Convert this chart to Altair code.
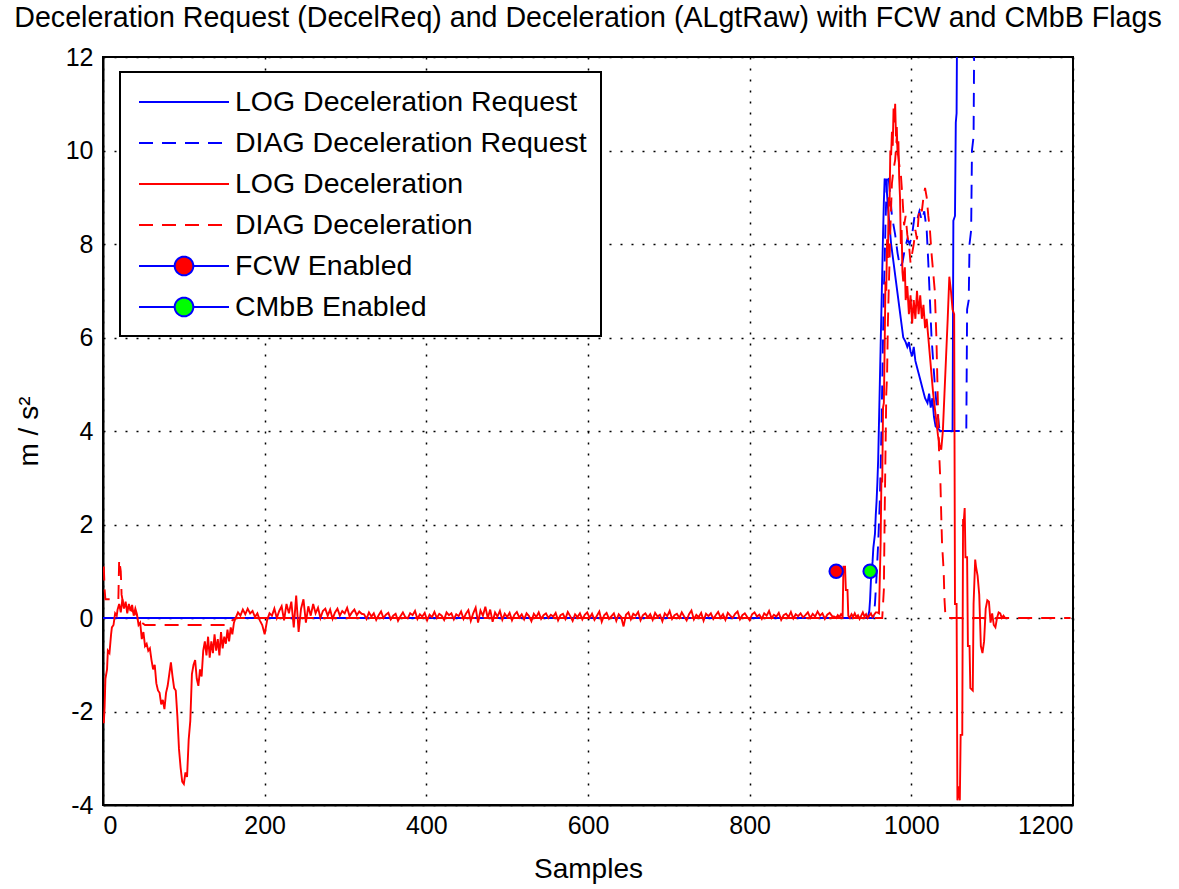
import altair as alt
import pandas as pd

TITLE = "Deceleration Request (DecelReq) and Deceleration (ALgtRaw) with FCW and CMbB Flags"
X_TICKS = [0, 200, 400, 600, 800, 1000, 1200]
Y_TICKS = [-4, -2, 0, 2, 4, 6, 8, 10, 12]

SERIES = ["LOG Deceleration Request", "DIAG Deceleration Request", "LOG Deceleration",
          "DIAG Deceleration", "FCW Enabled", "CMbB Enabled"]

# ---- LOG Deceleration Request (blue solid)
log_req_x = [0, 946, 948, 949, 950, 951, 952, 953, 955, 956, 957, 958, 959, 960, 961, 962, 963, 964,
             965, 966, 967, 969, 971, 973, 975, 978, 981, 984, 987, 990, 993, 995, 997, 999, 1001,
             1003, 1005, 1008, 1011, 1014, 1017, 1020, 1022, 1024, 1026, 1028, 1030, 1036, 1051, 1052,
             1054, 1055, 1056, 1057, 1200]
log_req_y = [0, 0, 0.15, 0.4, 0.8, 1.0, 1.2, 1.5, 1.8, 2.2, 2.5, 2.9, 3.4, 4.2, 5.0, 5.8, 6.6, 7.4,
             8.2, 8.9, 9.4, 9.3, 8.8, 8.4, 8.0, 7.6, 7.2, 6.8, 6.4, 6.0, 5.9, 5.8, 5.9, 5.7, 5.6,
             5.8, 5.5, 5.3, 5.1, 4.9, 4.7, 4.6, 4.8, 4.5, 4.7, 4.3, 4.1, 4.0, 4.0, 8.5,
             8.6, 10.6, 10.8, 14.0, 14.0]

# ---- DIAG Deceleration Request (blue dashed)
diag_req_x = [0, 953, 955, 957, 959, 961, 962, 963, 964, 965, 966, 967, 968, 969, 970, 972, 974, 976,
              978, 980, 983, 986, 989, 992, 995, 998, 1001, 1004, 1007, 1010, 1013, 1016, 1019, 1021,
              1023, 1025, 1027, 1029, 1031, 1033, 1035, 1068, 1069, 1071, 1072, 1074, 1075, 1077,
              1078, 1079, 1200]
diag_req_y = [0, 0, 0.3, 0.9, 1.6, 2.5, 3.2, 4.0, 5.0, 6.0, 7.0, 7.6, 8.4, 9.0, 9.5, 9.4, 9.0, 8.6,
              8.4, 8.2, 7.8, 7.5, 7.6, 7.9, 8.1, 8.0, 8.2, 8.6, 8.5, 8.7, 8.5, 8.7, 8.3, 7.6,
              6.8, 6.0, 5.5, 5.0, 4.6, 4.3, 4.0, 4.0, 6.6, 6.8, 8.0, 8.3, 10.0, 10.3,
              13.0, 14.0, 14.0]

# ---- LOG Deceleration (red solid): start, noisy middle, event
log_dec_start_x = [1, 2, 3, 5, 6, 8, 10, 11, 13, 15, 17, 18, 20, 22, 24, 26, 28, 30, 32, 34, 36, 38,
                   40, 42, 44, 46, 48, 50, 52, 54, 56, 58, 60, 62, 64, 66, 68, 70, 72, 74, 76, 78,
                   80, 82, 84, 86, 88, 90, 92, 94, 96, 98, 100, 102, 104, 106, 108, 110, 112, 114,
                   116, 118, 120, 122, 124, 126, 128, 130, 132, 134, 136, 138, 140, 142, 144, 146,
                   148, 150, 152, 154, 156, 158, 160, 162]
log_dec_start_y = [-2.25, -1.9, -1.3, -1.1, -0.7, -0.75, -0.35, -0.2, -0.15, 0.1, 0.05, 0.18, 0.3,
                   0.12, 0.4, 0.2, 0.35, 0.1, 0.3, 0.15, 0.28, 0.05, 0.2, 0.08, -0.15, -0.1, -0.45,
                   -0.3, -0.6, -0.55, -0.7, -0.65, -0.9, -1.1, -1.0, -1.4, -1.55, -1.6, -1.85, -1.75,
                   -1.95, -1.6, -1.45, -1.2, -0.95, -1.25, -1.5, -1.55, -2.1, -2.8, -3.2, -3.5, -3.55,
                   -3.3, -3.4, -2.6, -2.2, -1.2, -1.0, -0.9, -1.3, -1.45, -1.1, -1.25, -0.7, -0.5,
                   -0.8, -0.4, -0.85, -0.5, -0.75, -0.35, -0.7, -0.45, -0.8, -0.3, -0.65, -0.4, -0.55,
                   -0.25, -0.5, -0.2, -0.35, -0.1]
# samples 164, 167, ..., 905
log_dec_mid_y = [
    0.0, 0.12, 0.05, 0.18, 0.08, 0.2, 0.1, 0.15, 0.02, 0.1, -0.05, -0.15, -0.35,
    -0.05, 0.1, 0.05, 0.2, 0.0, 0.15, 0.25, -0.05, 0.3, 0.1, 0.35, -0.2, 0.48, -0.3, 0.2, 0.4,
    -0.1, 0.25, 0.05, 0.3,
    0.1, 0.22, 0.0, 0.15, 0.2, 0.05, 0.18, -0.02, 0.12, 0.2, 0.05, 0.15, 0.1, 0.22, 0.04, 0.12,
    0.18, 0.06, 0.14, 0.09,
    0.08, -0.02, 0.12, 0.03, 0.1, -0.04, 0.06, 0.14, 0.0, 0.07, 0.11, -0.03, 0.05,
    0.09, -0.06, 0.04, 0.12, 0.02, -0.01, 0.1, 0.06, 0.15, -0.02, 0.08, 0.03, 0.11,
    -0.05, 0.07, 0.02, 0.13, 0.0, 0.09, 0.05, -0.04, 0.12, 0.06, 0.1, -0.03, 0.08,
    0.04, 0.14, -0.02, 0.09, 0.17, -0.06, 0.1, 0.22, -0.1, 0.16, 0.05, 0.24, 0.0,
    0.18, -0.08, 0.12, 0.03, 0.15, -0.04, 0.09, 0.02, 0.11, -0.05, 0.07, 0.13, 0.01,
    0.08, -0.03, 0.1, 0.04, -0.07, 0.09, 0.02, 0.12, -0.02, 0.06, 0.1, 0.0, 0.07,
    0.03, 0.11, -0.05, 0.06, 0.09, -0.02, 0.13, 0.04, -0.06, 0.08, 0.02, 0.1, -0.03,
    0.07, 0.12, 0.0, 0.09, -0.04, 0.05, 0.14, -0.08, 0.06, 0.11, -0.02, 0.04, 0.1,
    -0.06, 0.08, 0.02, -0.18, 0.07, 0.12, -0.03, 0.09, 0.05, 0.13, -0.05, 0.06, 0.1,
    0.01, 0.08, -0.04, 0.11, 0.03, 0.07, -0.07, 0.1, 0.04, 0.15, -0.02, 0.06, 0.09,
    0.0, 0.12, 0.03, -0.05, 0.08, 0.16, -0.03, 0.07, 0.02, 0.11, -0.06, 0.09, 0.04,
    0.1, -0.02, 0.06, 0.13, 0.01, 0.08, -0.04, 0.11, 0.05, 0.0, 0.09, 0.14, -0.03,
    0.06, 0.1, 0.02, -0.05, 0.08, 0.12, 0.03, 0.07, -0.02, 0.1, 0.05, 0.15, 0.0,
    0.07, 0.03, 0.11, -0.04, 0.06, 0.09, 0.02, 0.13, -0.01, 0.08, 0.04, 0.1, 0.01,
    0.06, 0.12, 0.0, 0.09, 0.03, 0.14, 0.05, 0.1, -0.02, 0.07, 0.11, 0.04, 0.03,
]
log_dec_mid_x = list(range(164, 164 + 3 * len(log_dec_mid_y), 3))
log_dec_event_x = [907, 909, 911, 913, 915, 916, 918, 919, 921, 922, 924, 926, 928, 930, 932, 934, 936,
                   938, 940, 942, 944, 946, 948, 950, 952, 954, 956, 958, 960, 962, 963, 964, 965,
                   966, 967, 968, 969, 970, 971, 972, 973, 974, 975, 976, 977, 978, 979, 980, 981,
                   982, 983, 984, 985, 986, 987, 988, 989, 990, 992, 993, 995, 997, 999, 1001, 1003,
                   1005, 1007, 1009, 1011, 1013, 1015, 1017, 1019, 1021, 1023, 1025, 1027, 1029,
                   1031, 1033, 1035, 1037, 1039, 1041, 1043, 1045, 1047, 1049, 1051, 1053, 1054,
                   1056, 1057, 1059, 1060, 1061, 1063, 1064, 1065, 1066, 1067, 1069, 1070, 1072,
                   1073, 1076, 1077, 1079, 1080, 1082, 1084, 1086, 1088, 1090, 1092, 1094, 1096,
                   1098, 1100, 1102, 1104, 1106, 1108, 1110, 1112, 1114, 1116]
log_dec_event_y = [0.0, 0.06, 0.02, 0.08, 0.03, 1.1, 1.1, 0.6, 0.6, 0.05, 0.0, 0.08, 0.03, 0.1, 0.02,
                   0.06, -0.02, 0.05, 0.12, 0.03, 0.08, 0.0, 0.05, 0.1, 0.02, 0.07, 0.12, 0.12, 0.1,
                   1.6, 3.0, 2.9, 4.5, 4.6, 5.8, 7.2, 7.0, 8.1, 7.7, 9.0, 8.8, 10.0, 9.9, 10.4, 10.1,
                   10.9, 10.6, 11.0, 10.3, 10.5, 9.9, 10.2, 9.4, 9.0, 8.0, 8.3, 7.4, 7.2, 7.5, 6.8,
                   7.1, 6.5, 6.9, 6.3, 6.8, 6.4, 7.0, 6.5, 6.9, 6.4, 6.7, 6.2, 6.4, 6.0, 5.6, 5.2,
                   4.8, 4.5, 4.2, 3.9, 3.7, 3.6, 4.0, 4.8, 5.6, 6.4, 7.3, 7.0, 6.6, 6.5, 0.3,
                   0.3, -3.9, -3.6, -3.9, -2.5, -2.5, 2.1, 2.1, 2.35, 1.3, 1.3, -0.6, -0.6,
                   -1.5, -1.55, 0.3, 1.25, 1.1, 0.9, 0.5, -0.6, -0.75, -0.5, 0.2, 0.38, 0.35,
                   -0.1, 0.1, -0.15, -0.2, 0.0, 0.12, 0.1, 0.0, 0.05, 0.0]

# ---- DIAG Deceleration (red dashed)
diag_dec_x = [1, 2, 3, 19, 20, 22, 23, 25, 28, 32, 36, 40, 44, 48, 52, 155, 160, 165, 964, 966, 967,
              968, 969, 970, 971, 972, 973, 974, 975, 976, 978, 980, 982, 983, 985, 987, 989, 991,
              993, 995, 997, 999, 1001, 1003, 1005, 1007, 1009, 1011, 1013, 1015, 1017, 1019, 1021,
              1023, 1025, 1027, 1029, 1031, 1033, 1034, 1036, 1037, 1038, 1040, 1041, 1042, 1043,
              1197]
diag_dec_y = [1.1, 0.6, 0.4, 0.4, 1.25, 1.0, 0.5, 0.3, 0.2, 0.25, 0.15, 0.1, 0.0, -0.1, -0.15, -0.15,
              -0.05, 0.0, 0.0, 0.6, 2.2, 3.5, 4.8, 5.2, 6.3, 7.0, 7.6, 8.3, 8.8, 9.3, 9.6, 9.8, 10.3,
              10.0, 9.7, 9.5, 9.0, 8.4, 8.6, 8.2, 8.0, 7.6, 7.8, 8.0, 8.3, 8.1, 8.6, 8.8, 8.7, 9.0,
              9.2, 9.0, 8.6, 8.3, 7.8, 7.4, 7.0, 6.0, 4.5, 3.7, 2.9, 2.2, 1.6, 1.0, 0.4, 0.1, 0.0,
              0.0]

# ---- flag markers
fcw_x, fcw_y = [907], [1.0]
cmbb_x, cmbb_y = [949], [1.0]

BLUE, RED, GREEN = "#0000ff", "#ff0000", "#00ff00"
DASH = [14, 9]
FONT = "Liberation Sans"

x_enc = alt.X("sample:Q", scale=alt.Scale(domain=[0, 1200], nice=False, zero=False),
              axis=alt.Axis(values=X_TICKS, title="Samples", labelExpr="'' + datum.value"))
y_enc = alt.Y("value:Q", scale=alt.Scale(domain=[-4, 12], nice=False, zero=False),
              axis=alt.Axis(values=Y_TICKS, title="m / s²", labelExpr="'' + datum.value"))


def line_layer(xs, ys, color, dash=None):
    df = pd.DataFrame({"sample": xs, "value": ys})
    kw = dict(color=color, strokeWidth=1.9, clip=True, interpolate="linear")
    if dash is not None:
        kw["strokeDash"] = dash
    return alt.Chart(df).mark_line(**kw).encode(x=x_enc, y=y_enc, order="sample:Q")


def marker_layer(xs, ys, fill):
    df = pd.DataFrame({"sample": xs, "value": ys})
    return alt.Chart(df).mark_point(shape="circle", filled=True, size=180, fill=fill,
                                    stroke=BLUE, strokeWidth=2, opacity=1).encode(x=x_enc, y=y_enc)


red_x = log_dec_start_x + log_dec_mid_x + log_dec_event_x
red_y = log_dec_start_y + log_dec_mid_y + log_dec_event_y

LINE_PATH = "M-3,0H3"
DOT_PATH = "M-3,0H-0.62M0.62,0H3M0.62,0A0.62,0.62,0,1,1,-0.62,0A0.62,0.62,0,1,1,0.62,0Z"
shape_range = [LINE_PATH, LINE_PATH, LINE_PATH, LINE_PATH, DOT_PATH, DOT_PATH]
stroke_range = [BLUE, BLUE, RED, RED, BLUE, BLUE]
fill_range = ["transparent", "transparent", "transparent", "transparent", RED, GREEN]
dash_range = [[1, 0], DASH, [1, 0], DASH, [1, 0], [1, 0]]

leg = alt.Legend(orient="none", legendX=17, legendY=15, title=None,
                 labelFontSize=28.5, labelFont=FONT, labelColor="black", labelLimit=700,
                 symbolSize=900, symbolStrokeWidth=2, symbolOffset=34, labelOffset=35,
                 rowPadding=10, padding=14, strokeColor="black", fillColor="white")

legend_df = pd.DataFrame({"series": SERIES})
legend_layer = alt.Chart(legend_df).mark_point(filled=True, opacity=1, strokeWidth=2).encode(
    shape=alt.Shape("series:N", scale=alt.Scale(domain=SERIES, range=shape_range), legend=leg),
    fill=alt.Fill("series:N", scale=alt.Scale(domain=SERIES, range=fill_range), legend=leg),
    stroke=alt.Stroke("series:N", scale=alt.Scale(domain=SERIES, range=stroke_range), legend=leg),
    strokeDash=alt.StrokeDash("series:N", scale=alt.Scale(domain=SERIES, range=dash_range), legend=leg),
).transform_filter("false")

chart = alt.layer(
    line_layer(log_req_x, log_req_y, BLUE),
    line_layer(diag_req_x, diag_req_y, BLUE, DASH),
    line_layer(red_x, red_y, RED),
    line_layer(diag_dec_x, diag_dec_y, RED, DASH),
    marker_layer(fcw_x, fcw_y, RED),
    marker_layer(cmbb_x, cmbb_y, GREEN),
    legend_layer,
).properties(
    width=970, height=748,
    autosize=alt.AutoSizeParams(type="none"),
    padding={"left": 103, "top": 57, "right": 106, "bottom": 84},
    title=alt.TitleParams(TITLE, fontSize=28.6, font=FONT, fontWeight="normal", color="black",
                          anchor="middle", offset=12),
).configure(
    font=FONT, background="white"
).configure_view(
    stroke="black", strokeWidth=2
).configure_axis(
    labelFont=FONT, labelFontSize=25, labelColor="black",
    titleFont=FONT, titleFontSize=28, titleFontWeight="normal", titleColor="black",
    domainColor="black", domainWidth=2, ticks=False,
    grid=True, gridColor="black", gridDash=[2, 9], gridWidth=1.5, gridOpacity=1,
).configure_axisX(
    labelPadding=8, titlePadding=17
).configure_axisY(
    labelPadding=10, titlePadding=22
).configure_legend(
    strokeWidth=2
)

chart.save("out.html", embed_options={"renderer": "svg", "actions": False})
